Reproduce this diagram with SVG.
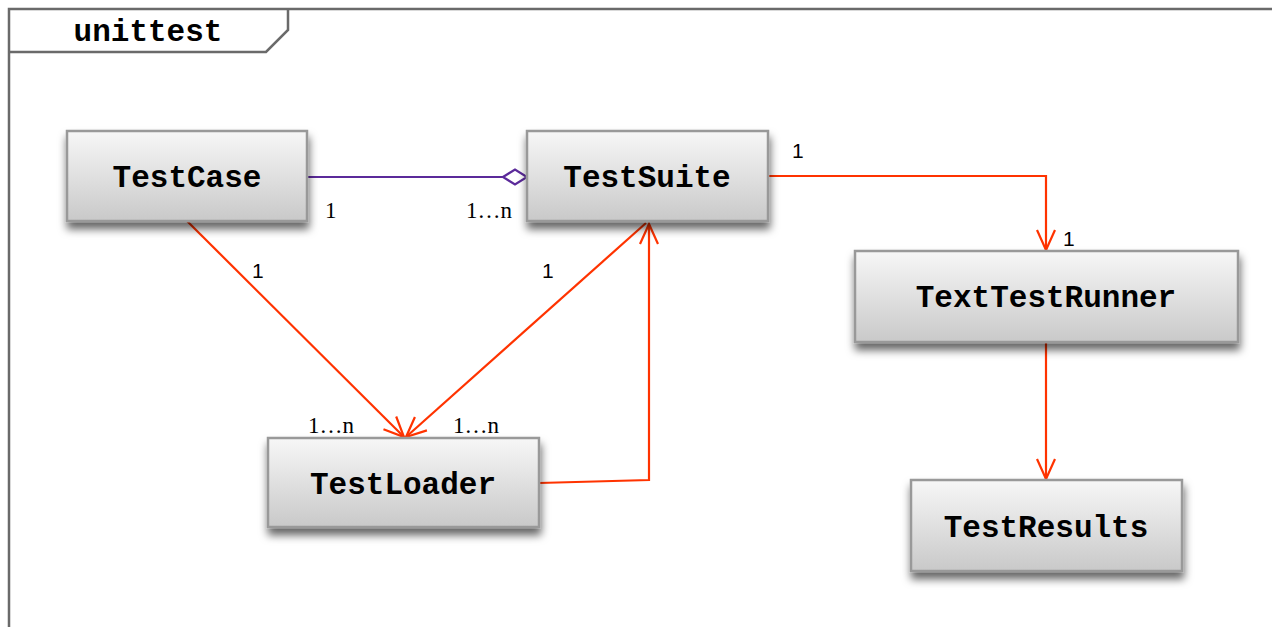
<svg xmlns="http://www.w3.org/2000/svg" width="1272" height="627" viewBox="0 0 1272 627">
<style>
.box{fill:url(#g);stroke:#999;stroke-width:2.5;filter:url(#sh)}
.nm{font-family:"Liberation Mono",monospace;font-weight:bold;font-size:31px;fill:#000;text-anchor:middle}
.red{fill:none;stroke:#ff3300;stroke-width:2.2}
.lbs{font-family:"Liberation Sans",sans-serif;font-size:21px;fill:#000}
.lbr{font-family:"Liberation Serif",serif;font-size:23px;fill:#000}
</style>
<defs>
<linearGradient id="g" x1="0" y1="0" x2="0" y2="1">
<stop offset="0" stop-color="#f7f7f7"/>
<stop offset="1" stop-color="#c9c9c9"/>
</linearGradient>
<filter id="sh" x="-20%" y="-20%" width="140%" height="160%">
<feDropShadow dx="1" dy="7" stdDeviation="4.5" flood-color="#000" flood-opacity="0.6"/>
</filter>
<marker id="ar" viewBox="0 0 24 24" refX="22" refY="12" markerWidth="24" markerHeight="24" markerUnits="userSpaceOnUse" orient="auto">
<path d="M2,3 L22,12 L2,21" fill="none" stroke="#ff3300" stroke-width="2.2"/>
</marker>
</defs>
<rect width="1272" height="627" fill="#fff"/>
<g id="frame" fill="none" stroke="#6a6a6a" stroke-width="2.5">
<path d="M9,627 L9,9 L1272,9"/>
<path d="M9,52 L266,52 L288,30 L288,9"/>
<text x="148" y="41" class="nm" stroke="none">unittest</text>
</g>
<g id="connectors">
<line x1="307" y1="177" x2="504" y2="177" stroke="#5b2a9a" stroke-width="2.2"/>
<path d="M503,177 L515,169.5 L527,177 L515,184.5 Z" fill="#fff" stroke="#5b2a9a" stroke-width="2.2"/>
<path class="red" d="M768,176 L1046,176 L1046,250" marker-end="url(#ar)"/>
<path class="red" d="M187,221 L404,437" marker-end="url(#ar)"/>
<path class="red" d="M646,223 L406,437" marker-end="url(#ar)"/>
<path class="red" d="M539,483 L649,480 L649,224" marker-end="url(#ar)"/>
<path class="red" d="M1046,342 L1046,479" marker-end="url(#ar)"/>
<text class="lbr" x="325" y="218">1</text>
<text class="lbr" x="466" y="218">1…n</text>
<text class="lbs" x="792" y="158">1</text>
<text class="lbs" x="1063" y="246">1</text>
<text class="lbs" x="252" y="278">1</text>
<text class="lbs" x="542" y="278">1</text>
<text class="lbr" x="308" y="433">1…n</text>
<text class="lbr" x="453" y="433">1…n</text>
</g>
<g id="TestCase"><rect class="box" x="67" y="131" width="240" height="90"/><text class="nm" x="187" y="187">TestCase</text></g>
<g id="TestSuite"><rect class="box" x="527" y="131" width="241" height="90"/><text class="nm" x="647" y="187">TestSuite</text></g>
<g id="TextTestRunner"><rect class="box" x="855" y="251" width="383" height="91"/><text class="nm" x="1046" y="307">TextTestRunner</text></g>
<g id="TestLoader"><rect class="box" x="268" y="438" width="271" height="89"/><text class="nm" x="403" y="494">TestLoader</text></g>
<g id="TestResults"><rect class="box" x="911" y="480" width="271" height="91"/><text class="nm" x="1046" y="537">TestResults</text></g>
</svg>
